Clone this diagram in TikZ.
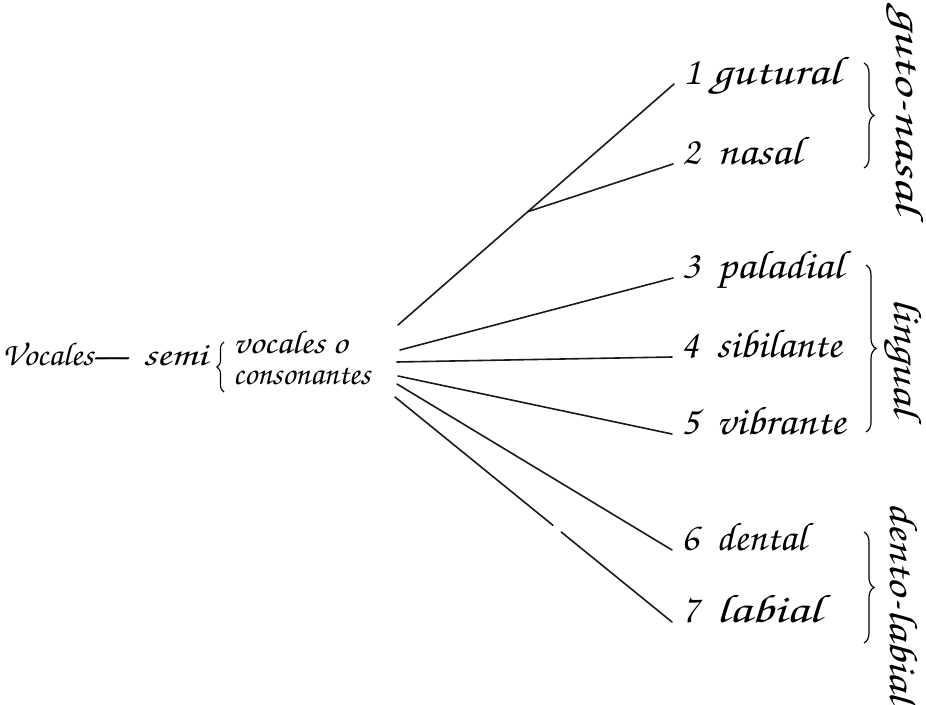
\documentclass[tikz,border=0pt]{standalone}
\usepackage[T1]{fontenc}
\usepackage{graphicx}
\usetikzlibrary{calc,decorations.pathreplacing}

% handwritten-style face (URW Chancery)
\newcommand\handfont[1]{\fontencoding{T1}\fontfamily{pzc}\fontseries{mb}\fontshape{it}\fontsize{#1}{#1}\selectfont}
% a word stretched to a given width, natural height
\newcommand\wordto[2]{\resizebox{#1}{\height}{#2}}
% a numbered entry: number box width, number, word width, word
\newcommand\entry[4][35pt]{\makebox[#1][l]{#2}\wordto{#3}{#4}}

\tikzset{
  branch/.style={line width=1.6pt, line cap=round, black!90},
  leaf/.style={anchor=base west, inner xsep=9pt, inner ysep=0pt, font=\handfont{40}},
  group/.style={decorate, decoration={brace, amplitude=10pt}, line width=1.2pt},
  rootbrace/.style={decorate, decoration={brace, amplitude=7pt}, line width=1.1pt},
  grouplabel/.style={rotate=-90, inner sep=0pt, font=\handfont{40}},
  stem/.style={inner sep=0pt, anchor=base west, font=\handfont{33}}
}

\begin{document}
\begin{tikzpicture}[x=1pt, y=-1pt]
  \useasboundingbox (0,0) rectangle (926,704);

  % root text with its brace
  \node[stem] (root) at (2,365) {\wordto{125pt}{Vocales---}\hspace{16pt}\wordto{64pt}{semi}};
  \coordinate (rbb) at (224,392);
  \coordinate (rbt) at (224,342);
  \draw[rootbrace] (rbb) -- (rbt);
  \node[stem] (sv) at (233,353) {\wordto{114pt}{vocales o}};
  \node[stem] (sc) at (233,384) {\wordto{137pt}{consonantes}};

  % start points of the branches, around the end of the root text
  \coordinate (s1) at (398,325);
  \coordinate (s3) at (400,350);
  \coordinate (s4) at (397,362);
  \coordinate (s5) at (398,376);
  \coordinate (s6) at (397,384);
  \coordinate (s7) at (395,397);

  % leaves
  \node[leaf] (l1) at (674,84)  {\entry[29pt]{1}{128pt}{gutural}};
  \node[leaf] (l2) at (673,164) {\entry{2}{84pt}{nasal}};
  \node[leaf] (l3) at (673,278) {\entry{3}{126pt}{paladial}};
  \node[leaf] (l4) at (672,357) {\entry{4}{125pt}{sibilante}};
  \node[leaf] (l5) at (672,434) {\entry{5}{129pt}{vibrante}};
  \node[leaf] (l6) at (672,550) {\entry{6}{90pt}{dental}};
  \node[leaf] (l7) at (672,622) {\entry{7}{105pt}{labial}};

  % branches
  \draw[branch] (s1) -- (l1.base west);
  \coordinate (fork) at ($(s1)!0.47!(l1.base west)$);
  \draw[branch] (fork) -- (l2.base west);
  \draw[branch] (s3) -- (l3.base west);
  \draw[branch] (s4) -- (l4.base west);
  \draw[branch] (s5) -- (l5.base west);
  \draw[branch] (s6) -- (l6.base west);
  \draw[branch] (s7) -- ($(s7)!0.57!(l7.base west)$);
  \draw[branch] ($(s7)!0.6!(l7.base west)$) -- (l7.base west);

  % group braces
  \coordinate (b1t) at (864,63);  \coordinate (b1b) at (864,168);
  \coordinate (b2t) at (866,265); \coordinate (b2b) at (866,432);
  \coordinate (b3t) at (864,532); \coordinate (b3b) at (864,643);
  \draw[group] (b1t) -- (b1b);
  \draw[group] (b2t) -- (b2b);
  \draw[group] (b3t) -- (b3b);

  % group names
  \node[grouplabel] (g1) at (905,110) {\wordto{206pt}{guto-nasal}};
  \node[grouplabel] (g2) at (903,357) {\wordto{118pt}{lingual}};
  \node[grouplabel] (g3) at (904,603) {\wordto{200pt}{dento-labial}};
\end{tikzpicture}
\end{document}
